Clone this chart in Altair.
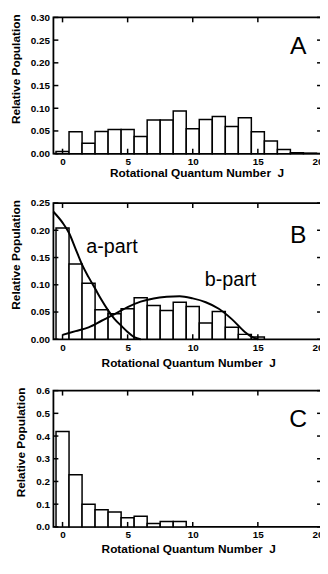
import altair as alt
import pandas as pd

# ---- data ----
J_A = list(range(20))
pop_A = [0.005, 0.048, 0.023, 0.049, 0.053, 0.053, 0.038, 0.074, 0.074, 0.094,
         0.055, 0.075, 0.082, 0.060, 0.079, 0.048, 0.028, 0.009, 0.002, 0.001]

J_B = list(range(16))
pop_B = [0.204, 0.138, 0.103, 0.054, 0.047, 0.056, 0.076, 0.062, 0.053, 0.068,
         0.060, 0.030, 0.051, 0.022, 0.009, 0.004]

a_J = [-0.7, 0, 0.5, 1, 1.5, 2, 2.5, 3, 3.5, 4, 4.5, 5, 5.5, 6]
a_val = [0.234, 0.214, 0.195, 0.166, 0.137, 0.114, 0.093, 0.072, 0.053, 0.037,
         0.025, 0.0135, 0.004, 0.0]

b_J = [0, 1, 2, 3, 4, 5, 6, 7, 8, 9, 10, 11, 12, 13, 14, 14.5, 15]
b_val = [0.008, 0.015, 0.022, 0.034, 0.046, 0.059, 0.069, 0.075, 0.078, 0.079,
         0.075, 0.068, 0.056, 0.037, 0.0135, 0.005, 0.0]

J_C = list(range(10))
pop_C = [0.42, 0.23, 0.10, 0.075, 0.066, 0.040, 0.047, 0.015, 0.024, 0.024]

x_ticks = [0, 5, 10, 15, 20]
y_ticks_A = [0, 0.05, 0.10, 0.15, 0.20, 0.25, 0.30]
y_ticks_B = [0, 0.05, 0.10, 0.15, 0.20, 0.25]
y_ticks_C = [0, 0.1, 0.2, 0.3, 0.4, 0.5, 0.6]

panel_letters = ["A", "B", "C"]
letter_J = [18.1, 18.1, 18.1]
letter_v = [0.236, 0.192, 0.473]
part_names = ["a-part", "b-part"]
part_J = [3.8, 12.9]
part_v = [0.169, 0.109]

FONT = "Liberation Sans"
W, H = 273, 138
XDOM = [-0.7, 20]
XTITLE = "Rotational Quantum Number\u00a0\u00a0J"


def panel(J, pop, ymax, yticks, yfmt, letter_idx, xtitle_pad, xtitle_x=None, extra=None):
    xs = alt.Scale(domain=XDOM, nice=False, zero=False)
    ys = alt.Scale(domain=[0, ymax], nice=False)
    xaxis_kw = dict(values=x_ticks, format="d", title=XTITLE, titlePadding=xtitle_pad,
                    labelPadding=3)
    if xtitle_x is not None:
        xaxis_kw["titleX"] = xtitle_x
    xaxis = alt.Axis(**xaxis_kw)
    yaxis = alt.Axis(values=yticks, format=yfmt, title="Relative Population",
                     titlePadding=8, labelPadding=4, titleY=H / 2 - 17)

    def X(f):
        return alt.X(f, scale=xs, axis=xaxis)

    def Y(f):
        return alt.Y(f, scale=ys, axis=yaxis)

    df = pd.DataFrame({"J": J, "pop": pop})
    bars = alt.Chart(df).transform_calculate(
        x0="datum.J - 0.5", x1="datum.J + 0.5"
    ).mark_bar(fill="white", stroke="black", strokeWidth=1.5).encode(
        x=X("x0:Q"), x2="x1:Q", y=Y("pop:Q"), y2=alt.datum(0),
    )
    xt = pd.DataFrame({"t": x_ticks})
    yt = pd.DataFrame({"t": yticks})
    tick_style = dict(color="black", strokeWidth=1.5)
    bot = alt.Chart(xt).mark_rule(**tick_style).encode(
        x=X("t:Q"), y=alt.value(H), y2=alt.value(H - 5))
    top = alt.Chart(xt).mark_rule(**tick_style).encode(
        x=X("t:Q"), y=alt.value(0), y2=alt.value(5))
    left = alt.Chart(yt).mark_rule(**tick_style).encode(
        y=Y("t:Q"), x=alt.value(0), x2=alt.value(5))
    right = alt.Chart(yt).mark_rule(**tick_style).encode(
        y=Y("t:Q"), x=alt.value(W - 6), x2=alt.value(W))
    lab = alt.Chart(pd.DataFrame({
        "J": [letter_J[letter_idx]], "v": [letter_v[letter_idx]], "t": [panel_letters[letter_idx]]
    })).mark_text(font=FONT, fontSize=25, color="black").encode(
        x=X("J:Q"), y=Y("v:Q"), text="t:N")
    layers = [bars]
    if extra is not None:
        layers += extra(X, Y)
    layers += [bot, top, left, right, lab]
    return alt.layer(*layers).properties(width=W, height=H)


def b_extra(X, Y):
    a_line = alt.Chart(pd.DataFrame({"J": a_J, "v": a_val})).mark_line(
        color="black", strokeWidth=2, interpolate="monotone").encode(
        x=X("J:Q"), y=Y("v:Q"))
    b_line = alt.Chart(pd.DataFrame({"J": b_J, "v": b_val})).mark_line(
        color="black", strokeWidth=2, interpolate="monotone").encode(
        x=X("J:Q"), y=Y("v:Q"))
    txt = alt.Chart(pd.DataFrame({"J": part_J, "v": part_v, "t": part_names})).mark_text(
        font=FONT, fontSize=20, color="black").encode(
        x=X("J:Q"), y=Y("v:Q"), text="t:N")
    return [a_line, b_line, txt]


pA = panel(J_A, pop_A, 0.30, y_ticks_A, ".2f", 0, 1, xtitle_x=145)
pB = panel(J_B, pop_B, 0.25, y_ticks_B, ".2f", 1, 6, extra=b_extra).properties(
    title=alt.TitleParams(" ", fontSize=2, offset=1))
pC = panel(J_C, pop_C, 0.6, y_ticks_C, ".1f", 2, 4)

chart = alt.vconcat(pA, pB, pC, spacing=15).properties(
    padding={"left": 0, "top": 0, "right": -5, "bottom": 0}
).configure_view(stroke="black", strokeWidth=1.8).configure_axis(
    labelFont=FONT, labelFontWeight="bold", labelFontSize=10, labelColor="black",
    titleFont=FONT, titleFontWeight="bold", titleFontSize=12, titleColor="black",
    ticks=False, domain=False, grid=False,
)

chart.save("out.html", embed_options={"renderer": "svg", "actions": False})
